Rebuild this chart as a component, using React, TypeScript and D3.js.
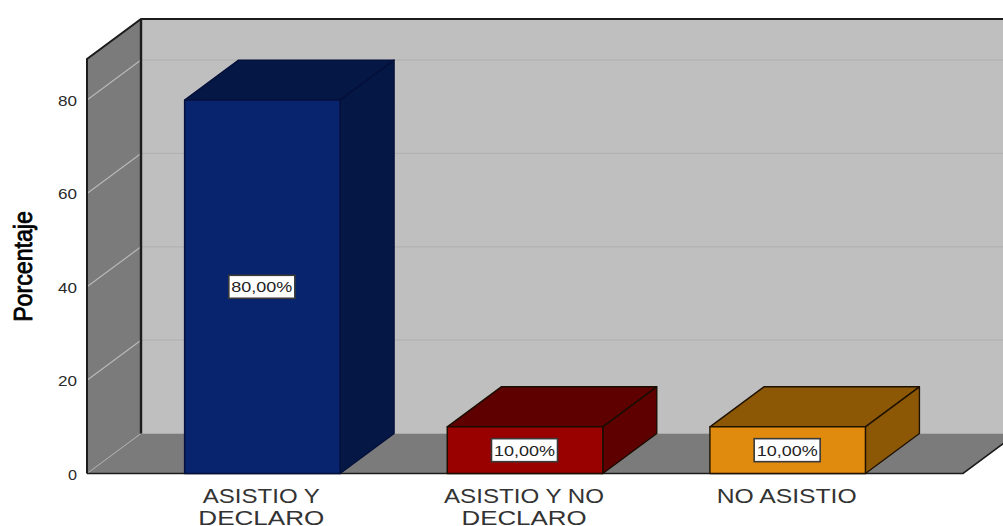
import React from "react";
import * as d3 from "d3";

const categories = [["ASISTIO Y", "DECLARO"], ["ASISTIO Y NO", "DECLARO"], ["NO ASISTIO"]];
const categoryWidths = [[117, 126], [160, 125], [140]];
const values = [80, 10, 10];
const valueLabels = ["80,00%", "10,00%", "10,00%"];
const ticks = [0, 20, 40, 60, 80];
const faces = ["#08246e", "#990000", "#e08a0e"];
const sides = ["#051745", "#5e0000", "#8d5806"];
const edges = ["#04103a", "#1a0c00", "#1f1200"];

const W = 1003, H = 526;
const DX = 54, DY = -40;
const x = d3.scaleBand<number>().domain([0, 1, 2]).range([87, 963]).paddingInner(0.408).paddingOuter(0.3715);
const y = d3.scaleLinear().domain([0, 88.8]).range([473.5, 59]);
const poly = (pts: [number, number][]) => d3.line()(pts) + "Z";

export default function App() {
  const x0 = x.range()[0], x1 = x.range()[1];
  const yB = y(0), yT = y(y.domain()[1]);
  return (
    <svg width={W} height={H} style={{ position: "absolute", left: 0, top: 0, fontFamily: "'Liberation Sans', Arial, sans-serif" }}>
      <rect width={W} height={H} fill="#fff" />
      <rect x={x0 + DX} y={yT + DY} width={W} height={yB - yT} fill="#bfbfbf" />
      <path d={poly([[x0, yB], [x0 + DX, yB + DY], [x1 + DX, yB + DY], [x1, yB]])} fill="#7b7b7b" />
      <path d={poly([[x0, yB], [x0, yT], [x0 + DX, yT + DY], [x0 + DX, yB + DY]])} fill="#7b7b7b" />
      {ticks.slice(1).map(t => (
        <g key={t} fill="none" strokeWidth={1.2} stroke="#b2b2b2">
          <line x1={x0} y1={y(t)} x2={x0 + DX} y2={y(t) + DY} stroke="#b8b8b8" />
          <line x1={x0 + DX} y1={y(t) + DY} x2={W} y2={y(t) + DY} />
        </g>
      ))}
      <line x1={x0} y1={yB} x2={x0 + DX} y2={yB + DY} stroke="#b8b8b8" strokeWidth={0.8} />
      <g fill="none" stroke="#1c1c1c">
        <path d={`M${x0},${yB}L${x0},${yT}L${x0 + DX},${yT + DY}L${W},${yT + DY}`} strokeWidth={2} />
        <line x1={x0 + DX} y1={yT + DY} x2={x0 + DX} y2={yB + DY} strokeWidth={2.4} />
        <path d={`M${x0},${yB}L${x1},${yB}L${x1 + DX},${yB + DY}`} strokeWidth={1.6} />
      </g>
      {values.map((v, i) => {
        const l = x(i)!, r = l + x.bandwidth(), t = y(v);
        return (
          <g key={i} stroke={edges[i]} strokeWidth={1.4} strokeLinejoin="round">
            <path d={poly([[l, t], [l + DX, t + DY], [r + DX, t + DY], [r, t]])} fill={sides[i]} />
            <path d={poly([[r, t], [r + DX, t + DY], [r + DX, yB + DY], [r, yB]])} fill={sides[i]} />
            <rect x={l} y={t} width={r - l} height={yB - t} fill={faces[i]} />
          </g>
        );
      })}
      {values.map((v, i) => {
        const cx = x(i)! + x.bandwidth() / 2 - 0.5, cy = (y(v) + yB) / 2;
        return (
          <g key={i}>
            <rect x={cx - 33} y={cy - 11.5} width={66} height={23} fill="#fff" stroke="#3a3a3a" strokeWidth={1.6} />
            <text x={cx} y={cy + 5.5} textAnchor="middle" fontSize={15} textLength={61} lengthAdjust="spacingAndGlyphs" fill="#222">{valueLabels[i]}</text>
          </g>
        );
      })}
      {ticks.map(t => (
        <text key={t} x={77} y={y(t) + 6} textAnchor="end" fontSize={15} textLength={t === 0 ? 9 : 19} lengthAdjust="spacingAndGlyphs" fill="#2a2a2a">{t}</text>
      ))}
      <text transform="translate(31.5,266.5) rotate(-90) scale(0.89,1)" textAnchor="middle" fontSize={26} stroke="#000" strokeWidth={0.8} fill="#000">Porcentaje</text>
      {categories.map((lines, i) => {
        const cx = x(i)! + x.bandwidth() / 2 - 1;
        return lines.map((s, j) => (
          <text key={s + j} x={cx} y={503 + j * 22} textAnchor="middle" fontSize={21} textLength={categoryWidths[i][j]} lengthAdjust="spacingAndGlyphs" fill="#333">{s}</text>
        ));
      })}
    </svg>
  );
}
